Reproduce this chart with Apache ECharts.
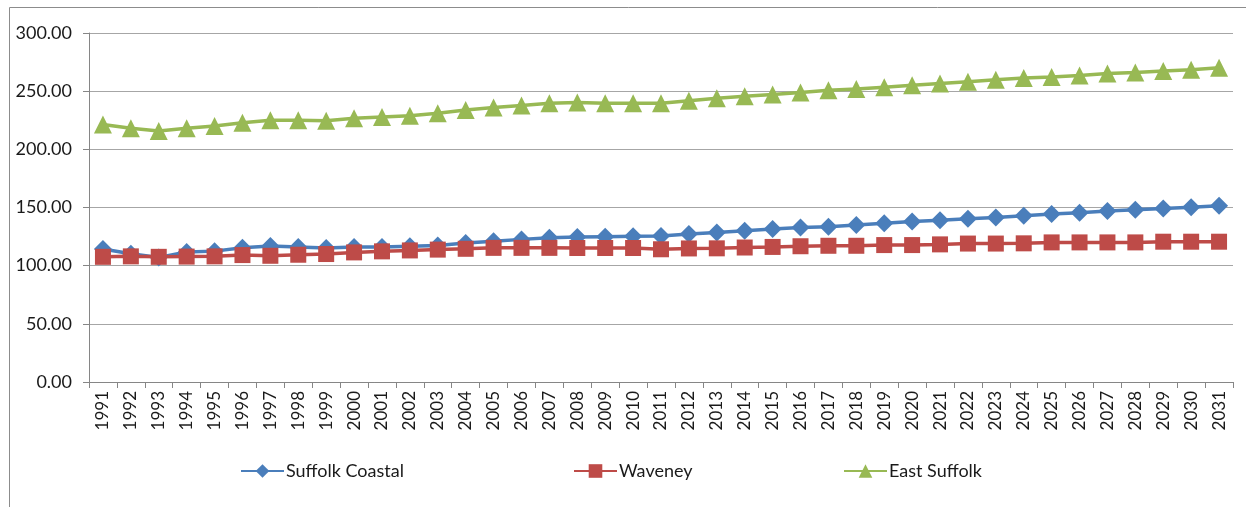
<!DOCTYPE html>
<html>
<head>
<meta charset="utf-8">
<script src="https://cdn.jsdelivr.net/npm/echarts@6/dist/echarts.min.js"></script>
<style>
html,body{margin:0;padding:0;background:#fff;}
#chart{width:1246px;height:507px;}
</style>
</head>
<body>
<div id="chart"></div>
<script>
const years = ['1991','1992','1993','1994','1995','1996','1997','1998','1999','2000','2001','2002','2003','2004','2005','2006','2007','2008','2009','2010','2011','2012','2013','2014','2015','2016','2017','2018','2019','2020','2021','2022','2023','2024','2025','2026','2027','2028','2029','2030','2031'];
const suffolkCoastal = [114.3,110.2,107.1,111.7,112.5,115.4,116.9,116.0,115.1,116.0,116.0,116.7,117.4,119.4,120.9,122.6,124.0,124.6,124.9,125.2,125.5,127.3,128.6,130.0,131.5,132.8,133.5,135.0,136.5,138.0,139.0,140.3,141.5,143.0,144.5,145.5,147.0,148.0,149.2,150.3,151.5];
const waveney = [107.6,108.0,107.6,107.8,108.0,109.1,108.5,109.4,110.0,111.4,112.3,113.1,113.8,114.5,115.3,115.3,115.3,115.2,115.2,115.2,114.1,114.8,114.9,115.6,116.1,116.7,117.1,117.1,117.7,117.7,118.3,119.0,119.0,119.2,120.0,120.0,120.0,120.0,120.6,120.6,120.6];
const eastSuffolk = [221.3,218.1,215.7,218.2,220.0,222.9,224.9,224.9,224.5,226.8,227.8,228.8,231.1,233.8,235.9,237.7,239.6,240.2,239.7,239.7,239.7,241.7,244.0,245.7,247.2,248.8,250.8,251.9,253.4,255.0,256.6,258.1,259.8,261.4,262.2,263.5,265.1,266.1,267.3,268.5,270.1];
const seriesNames = ['Suffolk Coastal','Waveney','East Suffolk'];

const FONT = 'Lato';
const chart = echarts.init(document.getElementById('chart'), null, {renderer:'canvas'});
const legendBase = {
  top: 462, padding: 0, itemWidth: 43, itemHeight: 17, itemGap: 0,
  textStyle: {fontFamily: FONT, fontSize: 18, color: '#1a1a1a', padding: [0,0,0,-3]},
  selectedMode: false
};
chart.setOption({
  animation: false,
  backgroundColor: '#fff',
  graphic: [{
    type: 'rect', silent: true,
    shape: {x: 9.5, y: 7.5, width: 1400, height: 600},
    style: {fill: 'none', stroke: '#8c8c8c', lineWidth: 1}
  }],
  legend: [
    Object.assign({}, legendBase, {left: 240, data: [seriesNames[0]]}),
    Object.assign({}, legendBase, {left: 573, data: [seriesNames[1]]}),
    Object.assign({}, legendBase, {left: 843, data: [seriesNames[2]]})
  ],
  grid: {left: 89, right: 13, top: 33, bottom: 125, containLabel: false},
  xAxis: {
    type: 'category', data: years, boundaryGap: true,
    axisLine: {lineStyle: {color: '#868686', width: 1}},
    axisTick: {show: true, length: 6, alignWithLabel: false, lineStyle: {color: '#868686'}},
    axisLabel: {rotate: 90, interval: 0, margin: 9, fontFamily: FONT, fontSize: 17, color: '#1a1a1a'}
  },
  yAxis: {
    type: 'value', min: 0, max: 300, interval: 50,
    axisLine: {show: true, lineStyle: {color: '#868686', width: 1}},
    axisTick: {show: true, length: 6, lineStyle: {color: '#868686'}},
    splitLine: {lineStyle: {color: '#a6a6a6', width: 1}},
    axisLabel: {margin: 17, fontFamily: FONT, fontSize: 18, color: '#1a1a1a', formatter: v => v.toFixed(2)}
  },
  series: [
    {name: seriesNames[0], type: 'line', data: suffolkCoastal, symbol: 'diamond', symbolSize: 18,
     itemStyle: {color: '#4a7ebb'}, lineStyle: {width: 3.5, color: '#4a7ebb'}, z: 2},
    {name: seriesNames[1], type: 'line', data: waveney, symbol: 'rect', symbolSize: 16,
     itemStyle: {color: '#be4b48'}, lineStyle: {width: 3.5, color: '#be4b48'}, z: 3},
    {name: seriesNames[2], type: 'line', data: eastSuffolk, symbol: 'triangle', symbolSize: 18,
     itemStyle: {color: '#98b954'}, lineStyle: {width: 3.5, color: '#98b954'}, z: 4}
  ]
});
</script>
</body>
</html>
